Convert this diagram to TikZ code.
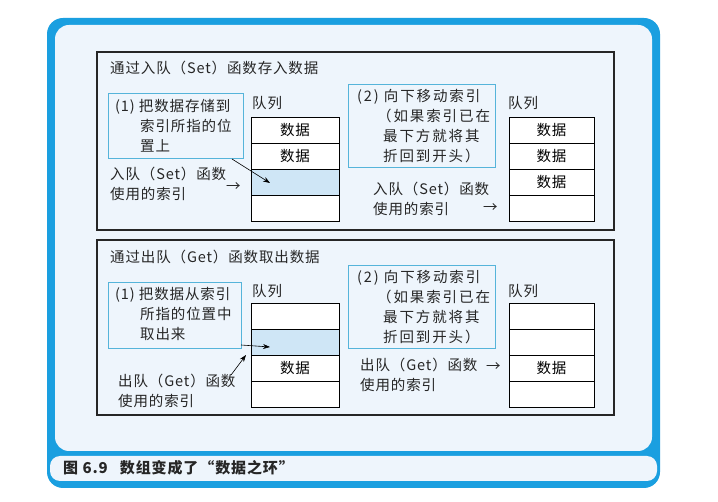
\documentclass[tikz,border=0pt]{standalone}
\usepackage{fontspec}
\setmainfont[LetterSpace=6]{Noto Sans CJK SC}
\newfontfamily\widefont[LetterSpace=13]{Noto Sans CJK SC}
\usetikzlibrary{arrows.meta}
\definecolor{frameblue}{HTML}{1A9FE0}
\definecolor{paleback}{HTML}{EEF5FC}
\definecolor{noteline}{HTML}{55B4DA}
\definecolor{cellfill}{HTML}{CFE6F6}
\tikzset{
 panel/.style={draw=black!85,line width=1.3pt,fill=paleback},
 note/.style={draw=noteline,line width=0.9pt,fill=paleback},
 cell/.style={draw=black,line width=0.6pt,fill=white,minimum width=88pt,minimum height=26pt,inner sep=0pt,font=\fontsize{14.5}{14.5}\selectfont},
 txt/.style={anchor=west,inner sep=0pt,font=\fontsize{14.5}{20}\selectfont,text=black!85},
 ptr/.style={-{Stealth[length=7pt,width=5pt]},line width=0.6pt},
}
\begin{document}
\begin{tikzpicture}[x=1pt,y=-1pt]
\useasboundingbox (0,0) rectangle (718,502);
\fill[white] (0,0) rectangle (718,502);
\fill[frameblue,rounded corners=16pt] (47,18) rectangle (660,488);
\fill[paleback,rounded corners=14pt] (55,25) rectangle (652,451);
\fill[paleback,rounded corners=10pt] (50,456) rectangle (657,481);
\node[txt,font=\fontsize{15}{15}\selectfont\bfseries] (cap) at (63,468) {图 6.9\hspace{12pt}数组变成了“数据之环”};

% panel 1
\draw[panel] (97,52) rectangle (614,230);
\node[txt] (t1) at (110,68) {通过入队（Set）函数存入数据};
\draw[note] (108,93) rectangle (243,158);
\node[txt,align=left] (n1) at (115,126) {(1) 把数据存储到\\\hspace{25pt}索引所指的位\\\hspace{25pt}置上};
\node[txt] (q1) at (252,103) {队列};
\node[cell] (a1) at (295,130) {数据};
\node[cell] (a2) at (295,156) {数据};
\node[cell,fill=cellfill] (a3) at (295,182) {};
\node[cell] (a4) at (295,208) {};
\node[txt,align=left] (l1) at (110,184) {入队（Set）函数\\使用的索引};
\node[txt] (r1) at (226,187) {→};
\coordinate (s1) at (232,159);
\draw[ptr] (s1) -- (270,183);

\draw[note] (348,84) rectangle (495,167);
\node[txt,align=left,font=\fontsize{14.5}{20}\widefont] (n2) at (357,126) {(2) 向下移动索引\\\hspace{20pt}（如果索引已在\\\hspace{26pt}最下方就将其\\\hspace{26pt}折回到开头）};
\node[txt] (q2) at (508,103) {队列};
\node[cell,minimum width=85pt] (b1) at (551.5,130) {数据};
\node[cell,minimum width=85pt] (b2) at (551.5,156) {数据};
\node[cell,minimum width=85pt] (b3) at (551.5,182) {数据};
\node[cell,minimum width=85pt] (b4) at (551.5,208) {};
\node[txt,align=left] (l2) at (373,199) {入队（Set）函数\\使用的索引};
\node[txt] (r2) at (483,208) {→};

% panel 2
\draw[panel] (97,240) rectangle (614,415);
\node[txt] (t2) at (110,257) {通过出队（Get）函数取出数据};
\draw[note] (108,282) rectangle (241,348);
\node[txt,align=left] (n3) at (115,314) {(1) 把数据从索引\\\hspace{25pt}所指的位置中\\\hspace{25pt}取出来};
\node[txt] (q3) at (252,291) {队列};
\node[cell] (c1) at (295,316) {};
\node[cell,fill=cellfill] (c2) at (295,342) {};
\node[cell] (c3) at (295,368) {数据};
\node[cell] (c4) at (295,394) {};
\coordinate (s2) at (241,345);
\draw[ptr] (s2) -- (270,347);
\node[txt,align=left] (l3) at (118,391) {出队（Get）函数\\使用的索引};
\coordinate (s3) at (231,375);
\draw[ptr] (s3) -- (246,355);

\draw[note] (348,265) rectangle (495,348);
\node[txt,align=left,font=\fontsize{14.5}{20}\widefont] (n4) at (357,307) {(2) 向下移动索引\\\hspace{20pt}（如果索引已在\\\hspace{26pt}最下方就将其\\\hspace{26pt}折回到开头）};
\node[txt] (q4) at (508,291) {队列};
\node[cell,minimum width=85pt] (d1) at (551.5,316) {};
\node[cell,minimum width=85pt] (d2) at (551.5,342) {};
\node[cell,minimum width=85pt] (d3) at (551.5,368) {数据};
\node[cell,minimum width=85pt] (d4) at (551.5,394) {};
\node[txt,align=left] (l4) at (360,375) {出队（Get）函数\\使用的索引};
\node[txt] (r4) at (486,367) {→};
\end{tikzpicture}
\end{document}
